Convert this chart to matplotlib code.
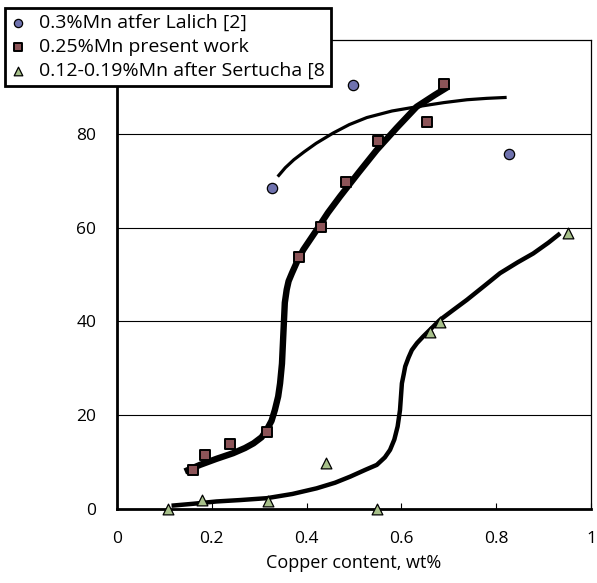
import matplotlib.pyplot as plt

# scattered measurements
LALICH_X = [0.327, 0.497, 0.828]
LALICH_Y = [68.5, 90.4, 75.7]

PRESENT_X = [0.161, 0.186, 0.238, 0.316, 0.384, 0.430, 0.483, 0.551, 0.655, 0.690]
PRESENT_Y = [8.3, 11.5, 13.8, 16.5, 53.7, 60.1, 69.8, 78.4, 82.5, 90.6]

SERTUCHA_X = [0.108, 0.179, 0.319, 0.440, 0.549, 0.660, 0.681, 0.951]
SERTUCHA_Y = [0.0, 2.0, 1.7, 9.7, 0.0, 37.7, 39.8, 58.8]

# hand-drawn trend curves
LALICH_FIT_X = [0.339, 0.355, 0.373, 0.395, 0.420, 0.456, 0.490, 0.527, 0.580, 0.632, 0.690, 0.738, 0.780, 0.822]
LALICH_FIT_Y = [70.9, 72.8, 74.5, 76.2, 78.0, 80.2, 82.0, 83.5, 84.9, 85.8, 86.7, 87.3, 87.6, 87.8]

PRESENT_FIT_X = [0.143, 0.175, 0.210, 0.245, 0.270, 0.288, 0.305, 0.316, 0.326, 0.333, 0.340, 0.344,
                 0.348, 0.351, 0.354, 0.358, 0.362, 0.369, 0.380, 0.393, 0.421, 0.445, 0.470,
                 0.510, 0.548, 0.590, 0.632, 0.670, 0.699]
PRESENT_FIT_Y = [8.0, 9.4, 10.7, 11.9, 13.0, 14.0, 15.3, 16.9, 18.8, 21.1, 24.0, 26.8,
                 31.0, 37.5, 44.0, 46.8, 48.6, 50.3, 52.8, 55.3, 59.5, 63.2, 66.6,
                 71.8, 76.6, 81.3, 85.8, 88.3, 90.1]

SERTUCHA_FIT_X = [0.115, 0.160, 0.210, 0.260, 0.316, 0.370, 0.421, 0.460, 0.492, 0.525, 0.548, 0.565,
                  0.576, 0.585, 0.592, 0.597, 0.601, 0.605, 0.608, 0.615, 0.622, 0.633, 0.646, 0.662,
                  0.681, 0.710, 0.738, 0.775, 0.808, 0.845, 0.878, 0.910, 0.935]
SERTUCHA_FIT_Y = [0.7, 1.1, 1.6, 1.9, 2.3, 3.2, 4.4, 5.6, 6.9, 8.4, 9.4, 11.0,
                  12.6, 14.8, 17.6, 21.1, 26.8, 28.8, 30.4, 32.3, 33.9, 35.4, 36.8, 38.4,
                  40.3, 42.5, 44.6, 47.6, 50.3, 52.6, 54.5, 56.8, 58.8]

LABELS = ["0.3%Mn atfer Lalich [2]", "0.25%Mn present work", "0.12-0.19%Mn after Sertucha [8"]


def main() -> None:
    plt.rcParams["font.family"] = ["Open Sans", "DejaVu Sans"]
    fig = plt.figure(figsize=(5.97, 5.83), dpi=100)
    ax = fig.add_axes([0.196, 0.127, 0.794, 0.804])

    for yv in [20, 40, 60, 80]:
        ax.axhline(yv, color="black", linewidth=0.8, zorder=1)

    ax.plot(LALICH_FIT_X, LALICH_FIT_Y, color="black", linewidth=2.3, solid_capstyle="butt", zorder=3)
    ax.plot(PRESENT_FIT_X, PRESENT_FIT_Y, color="black", linewidth=4.6, solid_capstyle="butt", zorder=3)
    ax.plot(SERTUCHA_FIT_X, SERTUCHA_FIT_Y, color="black", linewidth=3.2, solid_capstyle="butt", zorder=3)

    h1 = ax.scatter(LALICH_X, LALICH_Y, marker="o", s=55, color="#6F72AE", edgecolor="black",
                    linewidth=0.9, zorder=4, clip_on=False, label=LABELS[0])
    h2 = ax.scatter(PRESENT_X, PRESENT_Y, marker="s", s=60, color="#8C5458", edgecolor="black",
                    linewidth=1.4, zorder=4, clip_on=False, label=LABELS[1])
    h3 = ax.scatter(SERTUCHA_X, SERTUCHA_Y, marker="^", s=60, color="#A7C08A", edgecolor="black",
                    linewidth=0.9, zorder=4, clip_on=False, label=LABELS[2])

    ax.set_xlim(0, 1)
    ax.set_ylim(0, 100)
    ax.set_xticks([0, 0.2, 0.4, 0.6, 0.8, 1])
    ax.set_xticklabels(["0", "0.2", "0.4", "0.6", "0.8", "1"])
    ax.set_yticks([0, 20, 40, 60, 80])
    ax.tick_params(axis="x", direction="in", length=4, width=0.8, pad=16, labelsize=12.5)
    ax.tick_params(axis="y", length=0, pad=15, labelsize=12.5)
    ax.set_xlabel("Copper content, wt%", fontsize=13, labelpad=5)

    ax.spines["left"].set_linewidth(2.0)
    ax.spines["bottom"].set_linewidth(2.0)
    ax.spines["right"].set_linewidth(0.9)
    ax.spines["top"].set_linewidth(0.9)

    leg = fig.legend(
        [h1, h2, h3], LABELS,
        loc="upper left",
        bbox_to_anchor=(5 / 597, 1 - 8 / 583),
        fontsize=14,
        frameon=True,
        fancybox=False,
        edgecolor="black",
        framealpha=1,
        markerscale=0.8,
        handlelength=0.7,
        handletextpad=0.75,
        borderpad=0.3,
        labelspacing=0.32,
        borderaxespad=0,
    )
    leg.get_frame().set_linewidth(2.0)

    fig.savefig("out.png", dpi=100)


if __name__ == "__main__":
    main()
